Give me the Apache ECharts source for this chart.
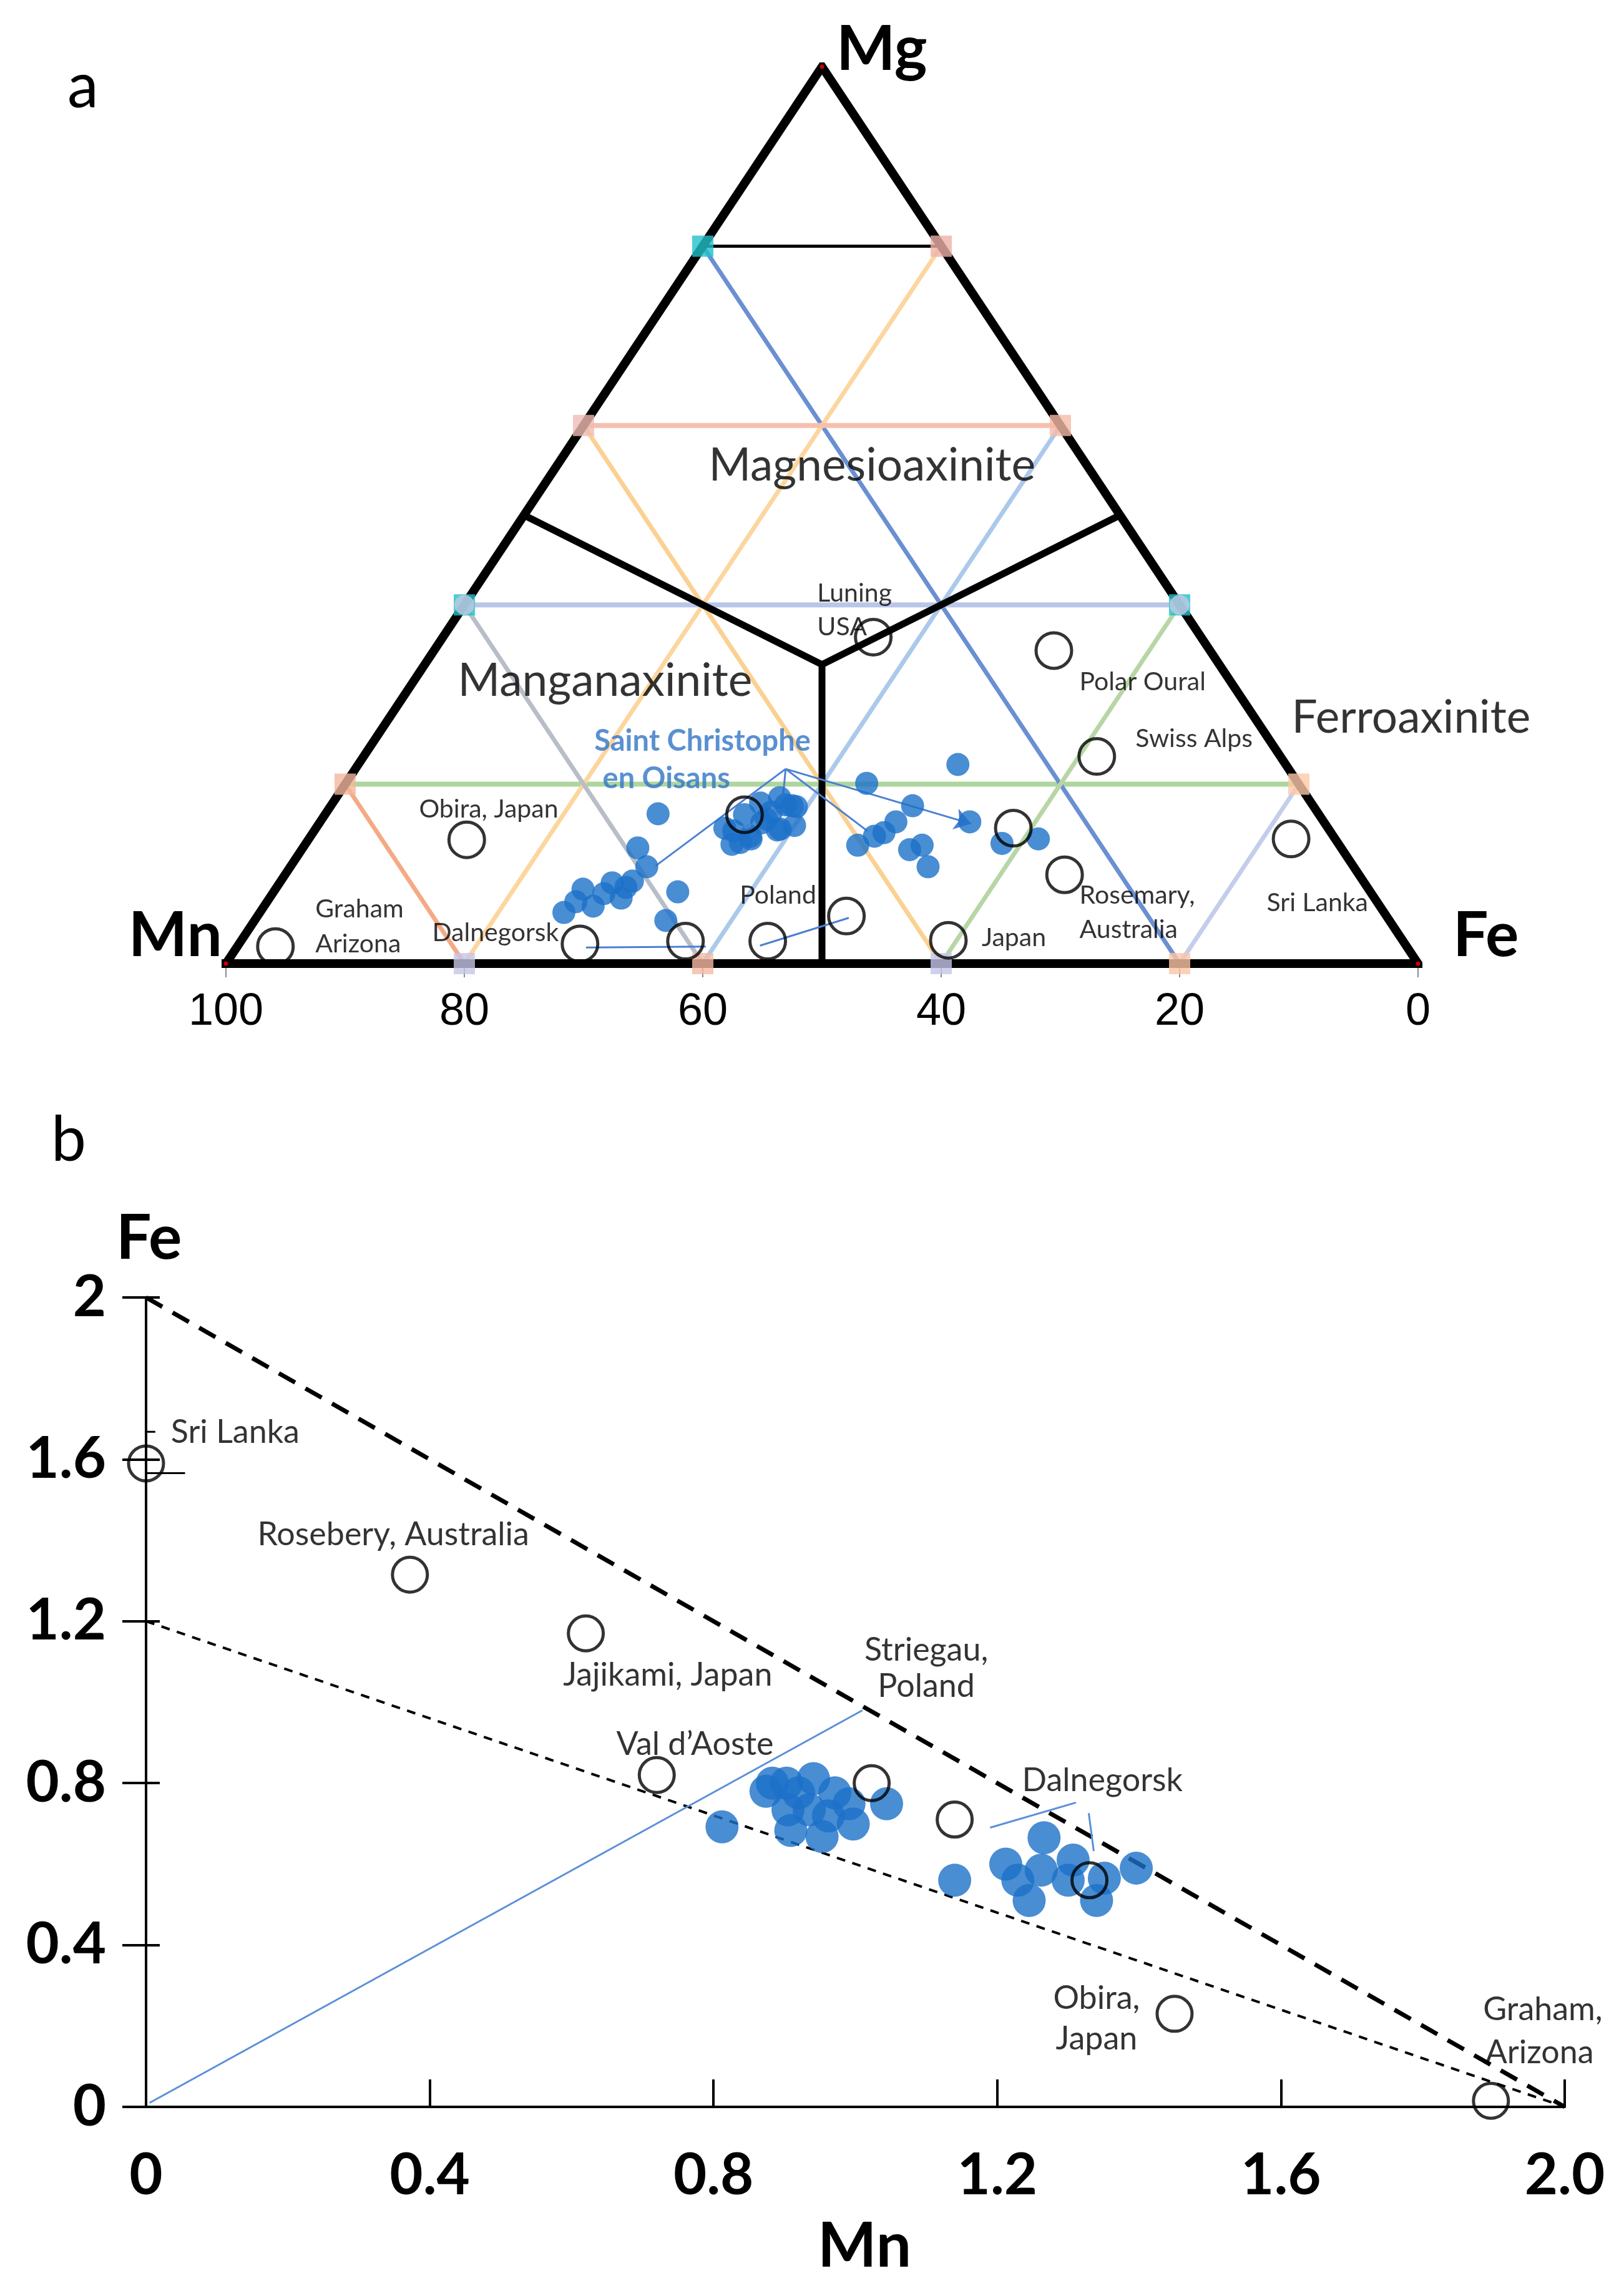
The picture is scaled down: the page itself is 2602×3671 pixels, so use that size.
<!DOCTYPE html>
<html><head><meta charset="utf-8">
<script src="https://cdn.jsdelivr.net/npm/echarts/dist/echarts.min.js"></script>
<style>html,body{margin:0;padding:0;background:#fff}#c{width:2602px;height:3671px}</style>
</head><body><div id="c"></div>
<script>
// ===================== DATA =====================
// Panel a: ternary compositions [Mn, Fe, Mg] in %
const ternTickLabels = [0, 20, 40, 60, 80, 100];
const ternOpenSites = [
  [27.5,36.1,36.4],[13.1,52.0,34.9],[15.4,61.5,23.1],[26.4,58.5,15.1],[3.7,82.4,13.9],
  [24.7,65.4,9.9],[45.3,49.4,5.3],[38.1,59.3,2.6],[53.3,44.2,2.5],[60.2,37.3,2.5],
  [69.2,28.6,2.2],[94.9,3.2,1.9],[72.9,13.3,13.8],[48.2,35.2,16.6]
];
const ternOisans = [
  [27.5,50.3,22.2],[36.2,43.7,20.1],[33.6,48.8,17.6],[29.7,54.5,15.8],[35.9,48.3,15.8],
  [37.5,47.9,14.6],[40.4,46.4,13.2],[38.5,47.3,14.2],[36.3,51.0,12.7],[35.0,51.8,13.2],
  [35.7,53.5,10.8],[28.2,58.4,13.4],[24.9,61.2,13.9],
  [44.3,37.2,18.5],[43.7,38.7,17.6],[48.2,35.2,16.6],[47.2,37.1,15.7],[46.0,39.0,15.0],
  [50.9,35.8,13.3],[50.6,34.3,15.1],[44.2,38.1,17.7],[43.4,39.1,17.5],[44.6,40.0,15.4],
  [46.3,38.8,14.9],[46.6,37.3,16.1],[48.9,36.9,14.2],[50.1,36.4,13.5],[46.2,35.9,17.9],
  [49.0,37.1,13.9],[45.8,37.3,16.9],[50.0,35.2,14.8],
  [55.4,27.9,16.7],[59.0,28.1,12.9],[59.3,29.9,10.8],[58.1,33.9,8.0],[60.7,34.5,4.8],
  [68.8,25.5,5.7],[65.9,25.8,8.3],[66.0,27.6,6.4],[63.1,27.9,9.0],[63.2,29.5,7.3],
  [61.3,29.5,9.2],[67.2,25.9,6.9],[64.4,27.8,7.8],[62.2,29.3,8.5]
];
const ternCorners = [[100,0,0],[0,100,0],[0,0,100]];
const ternCenter = [33.33,33.33,33.34];
const ternBoundaryEnds = [[50,0,50],[0,50,50],[50,50,0]];
const ternGridLevels = [20, 40, 60, 80];
// leader lines for "Saint Christophe en Oisans"
const ternLeaders = [
  [[42.2,36.1,21.7],[43.8,37.3,18.9]],
  [[42.2,36.1,21.7],[58.5,30.6,10.9]],
  [[42.2,36.1,21.7],[38.8,46.4,14.8]],
  [[68.9,29.3,1.8],[58.8,39.3,1.9]],
  [[54.2,43.8,2.0],[45.2,49.7,5.1]]
];
const ternArrows = [ [[42.2,36.1,21.7],[29.7,54.7,15.6]] ];
const ternSiteNames = ['Luning','USA','Polar Oural','Swiss Alps','Obira, Japan','Graham','Arizona',
  'Dalnegorsk','Poland','Japan','Rosemary,','Australia','Sri Lanka'];
const ternOisansName = ['Saint Christophe','en Oisans'];
const ternFieldNames = ['Magnesioaxinite','Manganaxinite','Ferroaxinite'];

// Panel b: [Mn, Fe] apfu
const bTicksX = [0, 0.4, 0.8, 1.2, 1.6, 2.0];
const bTicksY = [0, 0.4, 0.8, 1.2, 1.6, 2];
const bOpenSites = [
  [0,1.59],[0.372,1.315],[0.62,1.17],[0.72,0.82],[1.023,0.80],[1.14,0.71],
  [1.33,0.56],[1.45,0.23],[1.896,0.015]
];
const bOisans = [
  [0.812,0.692],[0.874,0.780],[0.883,0.800],[0.903,0.800],[0.941,0.811],[0.920,0.776],
  [0.971,0.776],[0.991,0.749],[0.997,0.699],[0.953,0.668],[0.909,0.683],[0.905,0.734],
  [0.935,0.734],[0.962,0.719],[1.044,0.749],
  [1.14,0.56],[1.212,0.60],[1.266,0.665],[1.245,0.51],[1.262,0.585],[1.307,0.61],
  [1.30,0.56],[1.34,0.51],[1.351,0.565],[1.396,0.59],[1.229,0.56]
];
const bUpperLimit = [[0,2],[2,0]];
const bLowerLimit = [[0,1.2],[2,0]];
const bRatioLine = [[0.005,0.01],[1.01,0.98]];
const bDalnLeaders = [ [[1.19,0.69],[1.311,0.752]], [[1.329,0.726],[1.336,0.632]] ];
const bSriLankaBars = [ [[-0.04,1.668],[0.013,1.668]], [[0,1.566],[0.055,1.566]] ];
const bSiteNames = ['Sri Lanka','Rosebery, Australia','Jajikami, Japan','Striegau,','Poland',
  'Val d\u2019Aoste','Dalnegorsk','Obira,','Japan','Graham,','Arizona'];

// ===================== LAYOUT (label anchors, not data) =====================
const ternSiteAnchors = [[50.4,41.3],[50.4,37.5],[28.4,31.4],[23.7,25.1],[83.8,17.2],[92.5,6.05],[92.5,2.2],
  [82.7,3.4],[56.9,7.6],[36.6,2.85],[28.4,7.6],[28.4,3.75],[12.7,6.75]];
const ternOisansAnchors = [[69.1,24.8],[68.4,20.6]];
const ternFieldAnchors = [[45.8,55.5],[68.2,31.5],[10.6,27.4]];
const bSiteAnchors = [[0.035,1.667],[0.157,1.413],[0.588,1.066],[1.10,1.129],[1.10,1.039],
  [0.663,0.896],[1.235,0.806],[1.34,0.268],[1.34,0.167],[1.885,0.24],[1.888,0.134]];
const bSiteAlign = ['left','left','left','center','center','left','left','center','center','left','left'];

// ===================== BUILD =====================
const T = p => [p[0] + p[2] / 2, p[2]];
const FONT = 'Lato';
const segs = [];
const segColor = {
  Mg: {20:'#aed59e', 40:'#b9c6ea', 60:'#f8bfae', 80:'#000000'},
  Mn: {80:'#f4aa84', 60:'#b8bec8', 40:'#fbd192', 20:'#6a8fd2'},
  Fe: {20:'#fcd69e', 40:'#abc9ea', 60:'#b7d6a5', 80:'#c4cdea'}
};
ternGridLevels.forEach(v => {
  segs.push({ends: [[100 - v, 0, v], [0, 100 - v, v]], color: segColor.Mg[v], w: v === 80 ? 5 : 8});
  segs.push({ends: [[v, 0, 100 - v], [v, 100 - v, 0]], color: segColor.Mn[v], w: 7});
  segs.push({ends: [[100 - v, v, 0], [0, v, 100 - v]], color: segColor.Fe[v], w: 7});
});
const series = [];
segs.forEach(s => series.push({
  type: 'line', xAxisIndex: 0, yAxisIndex: 0, data: s.ends.map(T), showSymbol: false, silent: true,
  lineStyle: {color: s.color, width: s.w}, z: 2, animation: false
}));
series.push({type:'line', xAxisIndex:0, yAxisIndex:0, data: ternCorners.concat([ternCorners[0]]).map(T),
  showSymbol:false, lineStyle:{color:'#000', width:14, join:'miter', cap:'square'}, z:4, animation:false});
ternBoundaryEnds.forEach(e => series.push({type:'line', xAxisIndex:0, yAxisIndex:0,
  data:[T(ternCenter), T(e)], showSymbol:false, lineStyle:{color:'#000', width:11}, z:4, animation:false}));
const markerPts = [];
const mkCol = {
  'L80':'#22c0c9','R80':'#eeb2a8','L60':'#efbcb4','R60':'#f6baa6','L40':'#22c0c9','R40':'#22c0c9',
  'L20':'#f4b79e','R20':'#fcc8a8','B80':'#c6c6e6','B60':'#f6b9a2','B40':'#c6c6ea','B20':'#fcc6a6'
};
ternGridLevels.forEach(v => {
  markerPts.push({value: T([100 - v, 0, v]), itemStyle:{color: mkCol['L' + v]}});
  markerPts.push({value: T([0, 100 - v, v]), itemStyle:{color: mkCol['R' + v]}});
  markerPts.push({value: T([v, 100 - v, 0]), itemStyle:{color: mkCol['B' + v]}});
});
series.push({type:'scatter', xAxisIndex:0, yAxisIndex:0, symbol:'rect', symbolSize:34, data: markerPts, z:5, animation:false});
series.push({type:'scatter', xAxisIndex:0, yAxisIndex:0, symbol:'circle', symbolSize:32,
  data:[T([60,0,40]), T([0,60,40])], itemStyle:{color:'#c3c9e4'}, z:6, animation:false});
series.push({type:'scatter', xAxisIndex:0, yAxisIndex:0, symbol:'circle', symbolSize:7,
  data: ternCorners.map(T), itemStyle:{color:'#ff0000'}, z:7, animation:false});
ternLeaders.forEach(l => series.push({type:'line', xAxisIndex:0, yAxisIndex:0, data:l.map(T), showSymbol:false,
  lineStyle:{color:'#4a80d2', width:3}, z:8, animation:false}));
series.push({type:'lines', coordinateSystem:'cartesian2d', xAxisIndex:0, yAxisIndex:0,
  data: ternArrows.map(a => ({coords: a.map(T)})), symbol:['none','arrow'], symbolSize:26,
  lineStyle:{color:'#4a80d2', width:3, opacity:1}, z:8, animation:false});
series.push({type:'scatter', xAxisIndex:0, yAxisIndex:0, symbol:'circle', symbolSize:37,
  data: ternOisans.map(T), itemStyle:{color:'#1b70c8'}, z:9, animation:false});
series.push({type:'scatter', xAxisIndex:0, yAxisIndex:0, symbol:'circle', symbolSize:57,
  data: ternOpenSites.map(T), itemStyle:{color:'rgba(0,0,0,0)', borderColor:'#000', borderWidth:5}, z:10, animation:false});
series.push({type:'scatter', xAxisIndex:0, yAxisIndex:0, symbolSize:0, silent:true, z:11, animation:false,
  data: ternSiteNames.map((n,i) => ({name:n, value: ternSiteAnchors[i]})),
  label:{show:true, position:'right', distance:0, formatter:'{b}', fontFamily:FONT, fontSize:41, color:'#000'}});
series.push({type:'scatter', xAxisIndex:0, yAxisIndex:0, symbolSize:0, silent:true, z:11, animation:false,
  data: ternOisansName.map((n,i) => ({name:n, value: ternOisansAnchors[i]})),
  label:{show:true, position:'right', distance:0, formatter:'{b}', fontFamily:FONT, fontSize:47, fontWeight:'bold', color:'#2f74c6'}});
series.push({type:'scatter', xAxisIndex:0, yAxisIndex:0, symbolSize:0, silent:true, z:11, animation:false,
  data: ternFieldNames.map((n,i) => ({name:n, value: ternFieldAnchors[i],
    label: i === 2 ? {position:'right', distance:0} : {position:'inside'}})),
  label:{show:true, formatter:'{b}', fontFamily:FONT, fontSize:73, color:'#000'}});

// ----- panel b -----
const B = {xAxisIndex:1, yAxisIndex:1, animation:false};
series.push(Object.assign({type:'line', data:bUpperLimit, showSymbol:false, lineStyle:{color:'#000', width:7, type:[30,19]}, z:3}, B));
series.push(Object.assign({type:'line', data:bLowerLimit, showSymbol:false, lineStyle:{color:'#000', width:4, type:[14,12]}, z:3}, B));
series.push(Object.assign({type:'line', data:bRatioLine, showSymbol:false, lineStyle:{color:'#5b8fd8', width:3}, z:3}, B));
bDalnLeaders.forEach(l => series.push(Object.assign({type:'line', data:l, showSymbol:false, lineStyle:{color:'#5b8fd8', width:3}, z:3}, B)));
bSriLankaBars.forEach(l => series.push(Object.assign({type:'line', data:l, showSymbol:false, clip:false, lineStyle:{color:'#000', width:3}, z:3}, B)));
series.push(Object.assign({type:'scatter', symbol:'circle', symbolSize:53, data:bOisans, itemStyle:{color:'#1b70c8'}, z:5}, B));
series.push(Object.assign({type:'scatter', symbol:'circle', symbolSize:56, data:bOpenSites, clip:false,
  itemStyle:{color:'rgba(0,0,0,0)', borderColor:'#000', borderWidth:5}, z:6}, B));
series.push(Object.assign({type:'scatter', symbolSize:0, silent:true, z:7,
  data: bSiteNames.map((n,i) => ({name:n, value:bSiteAnchors[i],
    label:{position: bSiteAlign[i] === 'left' ? 'right' : 'inside', distance:0}})),
  label:{show:true, formatter:'{b}', fontFamily:FONT, fontSize:52, color:'#000'}}, B));

const fmtB = v => (v === 0 ? '0' : v.toFixed(1));
const option = {
  backgroundColor:'#fff',
  animation:false,
  grid:[
    {left:362, right:330, top:107, bottom:2127},
    {left:234, right:95, top:2079, bottom:295}
  ],
  xAxis:[
    {gridIndex:0, type:'value', min:0, max:100, interval:20, inverse:true,
      axisLine:{show:false}, splitLine:{show:false},
      axisTick:{show:true, length:22, lineStyle:{color:'#888', width:2}},
      axisLabel:{fontFamily:'Liberation Sans', fontSize:72, color:'#000', margin:42}},
    {gridIndex:1, type:'value', min:0, max:2, interval:0.4, splitLine:{show:false},
      axisLine:{lineStyle:{color:'#000', width:4}},
      axisTick:{inside:true, length:44, lineStyle:{color:'#000', width:4}},
      axisLabel:{fontFamily:FONT, fontWeight:'bold', fontSize:92, color:'#000', margin:64, formatter:fmtB}},
    {gridIndex:1, type:'value', min:0, max:2, interval:0.4, splitLine:{show:false},
      axisLine:{show:false}, axisLabel:{show:false},
      axisTick:{inside:false, length:42, lineStyle:{color:'#000', width:4}}}
  ],
  yAxis:[
    {gridIndex:0, type:'value', min:0, max:100, show:false},
    {gridIndex:1, type:'value', min:0, max:2, interval:0.4, splitLine:{show:false},
      axisLine:{lineStyle:{color:'#000', width:4}},
      axisTick:{inside:false, length:38, lineStyle:{color:'#000', width:4}},
      axisLabel:{fontFamily:FONT, fontWeight:'bold', fontSize:92, color:'#000', margin:64,
        formatter: v => (v === 0 ? '0' : (v === 2 ? '2' : v.toFixed(1)))}},
    {gridIndex:1, type:'value', min:0, max:2, interval:0.4, position:'left', offset:0, splitLine:{show:false},
      axisLine:{show:false}, axisLabel:{show:false},
      axisTick:{inside:true, length:22, lineStyle:{color:'#000', width:4}}}
  ],
  graphic:[
    {type:'text', style:{text:'a', x:108, y:140, fontFamily:FONT, fontSize:100, fill:'#000', textAlign:'left', textVerticalAlign:'middle'}},
    {type:'text', style:{text:'Mg', x:1340, y:80, fontFamily:FONT, fontWeight:'bold', fontSize:100, fill:'#000', textAlign:'left', textVerticalAlign:'middle'}},
    {type:'text', style:{text:'Mn', x:356, y:1500, fontFamily:FONT, fontWeight:'bold', fontSize:100, fill:'#000', textAlign:'right', textVerticalAlign:'middle'}},
    {type:'text', style:{text:'Fe', x:2328, y:1500, fontFamily:FONT, fontWeight:'bold', fontSize:100, fill:'#000', textAlign:'left', textVerticalAlign:'middle'}},
    {type:'text', style:{text:'b', x:82, y:1828, fontFamily:FONT, fontSize:100, fill:'#000', textAlign:'left', textVerticalAlign:'middle'}},
    {type:'text', style:{text:'Fe', x:186, y:1985, fontFamily:FONT, fontWeight:'bold', fontSize:100, fill:'#000', textAlign:'left', textVerticalAlign:'middle'}},
    {type:'text', style:{text:'Mn', x:1385, y:3600, fontFamily:FONT, fontWeight:'bold', fontSize:100, fill:'#000', textAlign:'center', textVerticalAlign:'middle'}}
  ],
  series: series
};
const chart = echarts.init(document.getElementById('c'), null, {renderer:'canvas', width:2602, height:3671});
chart.setOption(option);
</script></body></html>
